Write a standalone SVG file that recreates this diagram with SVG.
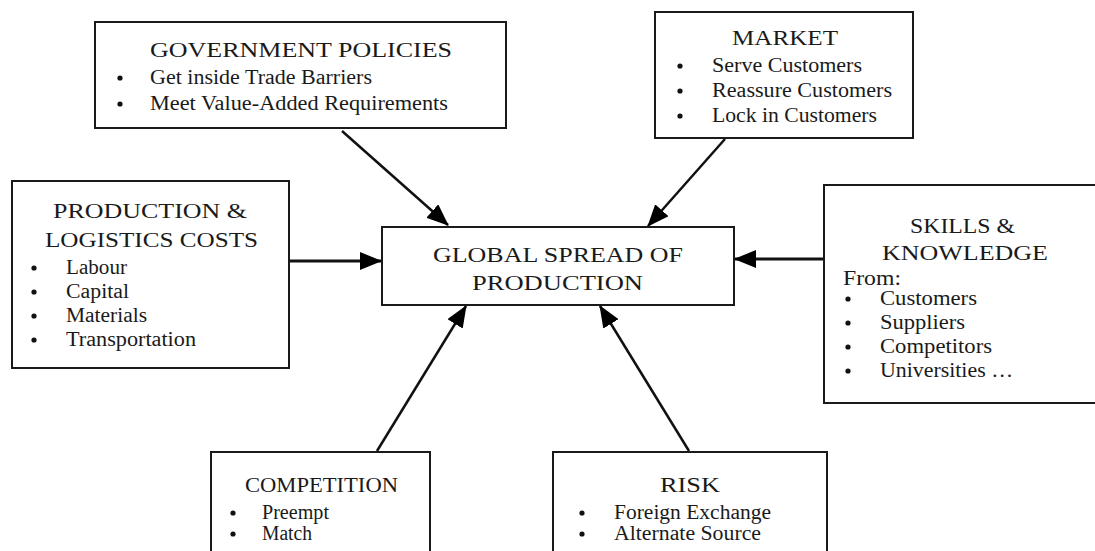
<svg xmlns="http://www.w3.org/2000/svg" width="1095" height="551" viewBox="0 0 1095 551">
<style>
.box{fill:#fff;stroke:#1a1a1a;stroke-width:2}
.t{font-family:"Liberation Serif","Times New Roman",serif;fill:#1a1a1a}
.h{font-size:22px}
.b{font-size:20px}
.c{text-anchor:middle}
.dot{fill:#111}
.con{stroke:#111;stroke-width:2.5;fill:none;marker-end:url(#ah)}
</style>
<defs>
<marker id="ah" markerUnits="userSpaceOnUse" markerWidth="22" markerHeight="18" refX="21" refY="9" orient="auto" viewBox="0 0 22 18">
<path d="M0,0 L22,9 L0,18 z" fill="#000"/>
</marker>
</defs>
<rect width="1095" height="551" fill="#fff"/>
<g id="connectors">
<line class="con" x1="342" y1="131" x2="448" y2="225"/>
<line class="con" x1="725" y1="139" x2="648" y2="226"/>
<line class="con" x1="289" y1="261" x2="381" y2="261" style="stroke-width:3"/>
<line class="con" x1="824" y1="259" x2="735" y2="259" style="stroke-width:3"/>
<line class="con" x1="377" y1="451" x2="466" y2="306"/>
<line class="con" x1="689" y1="451" x2="600" y2="306"/>
</g>
<g id="government">
<rect class="box" x="95" y="22" width="411" height="106"/>
<text class="t h" x="150" y="57" textLength="302" lengthAdjust="spacingAndGlyphs">GOVERNMENT POLICIES</text>
<circle class="dot" cx="120" cy="78" r="2.6"/>
<text class="t b" x="150" y="84" textLength="222" lengthAdjust="spacingAndGlyphs">Get inside Trade Barriers</text>
<circle class="dot" cx="120" cy="104" r="2.6"/>
<text class="t b" x="150" y="110" textLength="298" lengthAdjust="spacingAndGlyphs">Meet Value-Added Requirements</text>
</g>
<g id="market">
<rect class="box" x="655" y="12" width="258" height="126"/>
<text class="t h" x="732" y="45" textLength="106" lengthAdjust="spacingAndGlyphs">MARKET</text>
<circle class="dot" cx="680" cy="66" r="2.6"/>
<text class="t b" x="712" y="72" textLength="150" lengthAdjust="spacingAndGlyphs">Serve Customers</text>
<circle class="dot" cx="680" cy="91" r="2.6"/>
<text class="t b" x="712" y="97" textLength="180" lengthAdjust="spacingAndGlyphs">Reassure Customers</text>
<circle class="dot" cx="680" cy="116" r="2.6"/>
<text class="t b" x="712" y="122" textLength="165" lengthAdjust="spacingAndGlyphs">Lock in Customers</text>
</g>
<g id="production">
<rect class="box" x="12" y="181" width="277" height="187"/>
<text class="t h" x="53" y="218" textLength="194" lengthAdjust="spacingAndGlyphs">PRODUCTION &amp;</text>
<text class="t h" x="45" y="247" textLength="213" lengthAdjust="spacingAndGlyphs">LOGISTICS COSTS</text>
<circle class="dot" cx="34" cy="268" r="2.6"/>
<text class="t b" x="66" y="274" textLength="61" lengthAdjust="spacingAndGlyphs">Labour</text>
<circle class="dot" cx="34" cy="292" r="2.6"/>
<text class="t b" x="66" y="298" textLength="63" lengthAdjust="spacingAndGlyphs">Capital</text>
<circle class="dot" cx="34" cy="316" r="2.6"/>
<text class="t b" x="66" y="322" textLength="81" lengthAdjust="spacingAndGlyphs">Materials</text>
<circle class="dot" cx="34" cy="340" r="2.6"/>
<text class="t b" x="66" y="346" textLength="130" lengthAdjust="spacingAndGlyphs">Transportation</text>
</g>
<g id="global">
<rect class="box" x="382" y="227" width="352" height="78"/>
<text class="t h" x="433" y="262" textLength="250" lengthAdjust="spacingAndGlyphs">GLOBAL SPREAD OF</text>
<text class="t h" x="472" y="290" textLength="171" lengthAdjust="spacingAndGlyphs">PRODUCTION</text>
</g>
<g id="skills">
<rect class="box" x="824" y="185" width="280" height="218"/>
<text class="t h" x="910" y="233" textLength="105" lengthAdjust="spacingAndGlyphs">SKILLS &amp;</text>
<text class="t h" x="882" y="260" textLength="166" lengthAdjust="spacingAndGlyphs">KNOWLEDGE</text>
<text class="t b" x="843" y="285" textLength="58" lengthAdjust="spacingAndGlyphs">From:</text>
<circle class="dot" cx="848" cy="299" r="2.6"/>
<text class="t b" x="880" y="305" textLength="97" lengthAdjust="spacingAndGlyphs">Customers</text>
<circle class="dot" cx="848" cy="323" r="2.6"/>
<text class="t b" x="880" y="329" textLength="85" lengthAdjust="spacingAndGlyphs">Suppliers</text>
<circle class="dot" cx="848" cy="347" r="2.6"/>
<text class="t b" x="880" y="353" textLength="112" lengthAdjust="spacingAndGlyphs">Competitors</text>
<circle class="dot" cx="848" cy="371" r="2.6"/>
<text class="t b" x="880" y="377" textLength="133" lengthAdjust="spacingAndGlyphs">Universities …</text>
</g>
<g id="competition">
<rect class="box" x="211" y="452" width="219" height="110"/>
<text class="t h" x="245" y="492" textLength="153" lengthAdjust="spacingAndGlyphs">COMPETITION</text>
<circle class="dot" cx="233" cy="513" r="2.6"/>
<text class="t b" x="262" y="519" textLength="67" lengthAdjust="spacingAndGlyphs">Preempt</text>
<circle class="dot" cx="233" cy="534" r="2.6"/>
<text class="t b" x="262" y="540" textLength="50" lengthAdjust="spacingAndGlyphs">Match</text>
</g>
<g id="risk">
<rect class="box" x="553" y="452" width="274" height="110"/>
<text class="t h c" x="690" y="492" textLength="60" lengthAdjust="spacingAndGlyphs">RISK</text>
<circle class="dot" cx="582" cy="513" r="2.6"/>
<text class="t b" x="614" y="519" textLength="157" lengthAdjust="spacingAndGlyphs">Foreign Exchange</text>
<circle class="dot" cx="582" cy="534" r="2.6"/>
<text class="t b" x="614" y="540" textLength="147" lengthAdjust="spacingAndGlyphs">Alternate Source</text>
</g>
</svg>
